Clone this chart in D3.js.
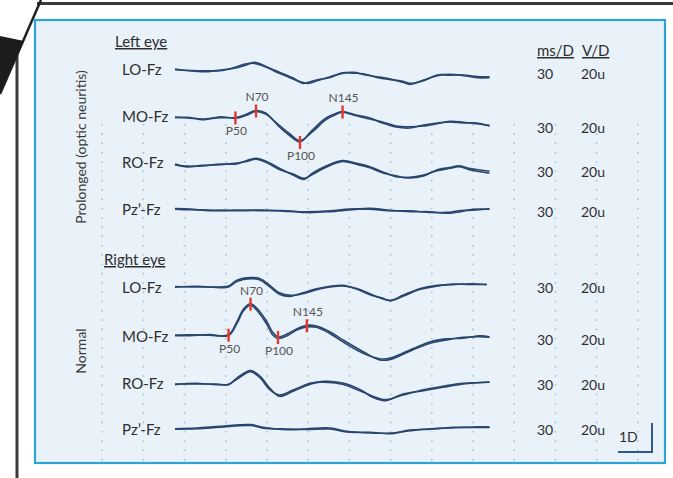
<!DOCTYPE html>
<html>
<head>
<meta charset="utf-8">
<script src="https://cdn.jsdelivr.net/npm/d3@7"></script>
<style>
  body { margin: 0; background: #fff; }
  svg text { font-family: Lato, "Open Sans", sans-serif; }
</style>
</head>
<body>
<svg id="chart" width="673" height="478"></svg>
<script>
// ---- data ----
var channels = ["LO-Fz", "MO-Fz", "RO-Fz", "Pz\u2019-Fz"];
var msPerDiv = ["30", "30", "30", "30"];
var vPerDiv = ["20u", "20u", "20u", "20u"];

// division lines, ms (30 ms per division)
var gridTimes = [-53, -23, 7, 37, 67, 97, 127, 157, 187, 217, 247, 277, 307, 337];

// left eye, prolonged (optic neuritis); amplitudes in uV, negative plotted up
var timesLeftLO = [0, 20, 33, 45, 52, 58, 76, 86, 93, 97, 103, 113, 122, 130, 137, 147, 157, 166, 171, 181, 191, 200, 210, 220, 229];
var sweepALeftLO = [0, 1.9, 0.7, -0.9, -2.8, -4.6, 3, 6.9, 9.2, 9.9, 8.3, 5.3, 3, 2.3, 3.7, 5.3, 6.9, 9.2, 10.6, 7.6, 4.6, 3.7, 4.6, 6, 6];
var sweepBLeftLO = [0.5, 1.2, 1.2, -1.6, -3.6, -3.9, 2.2, 6.2, 9.9, 9.2, 7.6, 5.8, 2.6, 2.9, 3.3, 5.8, 7.4, 8.5, 9.9, 8.1, 4.1, 4.2, 4.1, 5.2, 5.4];

var timesLeftMO = [0, 11, 20, 33, 44, 52, 59, 66, 76, 83, 91, 100, 110, 118, 122, 132, 142, 151, 161, 171, 181, 191, 200, 210, 220, 229];
var sweepALeftMO = [0, 0.9, 1.4, 0.5, 0.3, -1.9, -4.5, -2.8, 6.9, 12.4, 17.2, 9, 0.7, -2.8, -3.8, -1.4, 0.7, 4.1, 6.9, 7.6, 5.5, 4.1, 3.4, 4.1, 4.1, 6.2];
var sweepBLeftMO = [0.4, 0.3, 1.9, -0.2, 0.9, -1.2, -3.9, -2, 5.8, 11.2, 16.3, 10.3, 1.8, -2.1, -3.3, -0.8, 1.4, 3.4, 6.2, 6.7, 6.2, 4.6, 3, 3.6, 4.7, 5.8];

var timesLeftRO = [0, 9, 20, 33, 45, 52, 59, 67, 76, 86, 94, 100, 110, 122, 132, 142, 151, 161, 171, 181, 191, 200, 207, 215, 222, 229];
var sweepALeftRO = [0, 0.7, 0.7, -0.7, -0.7, -3, -4.6, -2.3, 2.3, 6.9, 9.9, 5.7, 0.7, -3, -1.2, 1.2, 4.6, 8.1, 8.5, 6.9, 3.9, 2.3, 1.2, 3.4, 4.6, 5.7];
var sweepBLeftRO = [-0.6, 1.3, 0.2, -0.2, -1.4, -2.4, -4, -1.5, 3.1, 6.2, 9.2, 6.5, 1.5, -2.5, -0.5, 1.9, 5.3, 7.5, 8.9, 7.5, 3.2, 1.7, 0.6, 2.5, 3.5, 4.3];

var timesLeftPz = [0, 11, 25, 45, 64, 82, 96, 113, 127, 142, 155, 171, 186, 198, 208, 217, 229];
var sweepALeftPz = [0, 0.3, 1.5, 1, 1.5, 1.5, 2.8, 2.2, 1, -0.1, 1, 2.2, 2.2, 3.3, 2.2, 0.5, 0.5];
var sweepBLeftPz = [0.4, 0.9, 1, 1.6, 1, 2.1, 2.3, 1.6, 0.4, 0.5, 1.6, 1.6, 2.8, 2.7, 1.4, 1.2, 0.2];

// right eye, normal
var timesRightLO = [0, 16, 33, 39, 45, 55, 62, 69, 76, 84, 93, 106, 122, 133, 142, 151, 157, 166, 178, 191, 202, 215, 227];
var sweepARightLO = [0, 0.3, 0.3, -0.3, -4.3, -6.1, -5.4, -0.8, 4.3, 6.1, 5, 1.5, -0.3, 1.5, 5, 8.4, 9.5, 6.1, 1.5, -0.8, -1.2, -1.9, -1.2];
var sweepBRightLO = [0.4, -0.2, 0.8, 0.4, -3.4, -5.4, -4.5, 0.2, 5.3, 6.8, 4.3, 1.1, -0.8, 2.1, 5.6, 8, 9.9, 6.8, 2.1, -0.3, -1.7, -1.4, -1.6];

var timesRightMO = [0, 11, 25, 39, 45, 50, 55, 60, 67, 71, 75, 82, 89, 96, 103, 113, 122, 137, 149, 157, 173, 186, 198, 210, 222, 229];
var sweepARightMO = [0, -0.2, 0.2, -0.2, -9, -18.1, -21.6, -18.1, -9, -2.1, 1.4, -0.9, -4.4, -6.7, -6.2, -2.1, 3.2, 11.5, 17.2, 16.8, 10.3, 5.7, 3.4, 1.6, 1.2, 1.6];
var sweepBRightMO = [0.5, 0.4, -0.3, 0.3, -7.8, -16.9, -20.5, -16.6, -7.2, -0.2, 2.4, 0.4, -3.6, -5.6, -5.3, -0.9, 4.6, 12.6, 16.4, 15.9, 9.5, 4.6, 2.7, 2.2, 0.6, 1.2];

var timesRightRO = [0, 15, 30, 39, 45, 55, 62, 69, 76, 86, 99, 108, 122, 135, 144, 153, 166, 181, 195, 210, 229];
var sweepARightRO = [0, 0, 0, 0.5, -4.1, -9.2, -5.3, 2.8, 8.5, 5, 0, -1.8, -0.7, 3.9, 9.2, 11.5, 6.9, 4.6, 2.3, 0, -1.4];
var sweepBRightRO = [0.4, -0.5, 0.4, 0.2, -3.2, -8.4, -4.2, 3.9, 7.6, 4.2, -0.6, -1.3, 0.2, 4.8, 8.4, 10.8, 7.6, 4, 1.6, -0.5, -1.2];

var timesRightPz = [0, 16, 33, 55, 64, 82, 96, 113, 125, 142, 157, 171, 186, 202, 217, 229];
var sweepARightPz = [0, -0.5, -1.6, -2.8, -1, 0.7, 0, -0.5, 1.8, 3, 3, 1.4, 0, -0.5, -1.2, -1.2];
var sweepBRightPz = [0.3, 0, -1.1, -2.2, -0.4, 0.2, 0.5, 0.2, 2.3, 2.5, 3.5, 1, 0.4, -1, -0.8, -0.9];

// peak markers on MO-Fz
var peakNames = ["P50", "N70", "P100", "N145"];
var peakSide = ["below", "above", "below", "above"];
var peakTimesLeft = [44, 59, 91, 122];
var peakTimesRight = [39, 55, 75, 96];

// ---- layout ----
var svg = d3.select("#chart");
var traceColor = "#29466f";
var textColor = "#2e2e2e";

var x = d3.scaleLinear().domain([0, 230]).range([175, 175 + 230 * 41.2 / 30]);

var groups = [
  { title: "Left eye", titleX: 115, titleY: 47, side: "Prolonged (optic neuritis)", sideY: 147,
    base: [69, 117, 165, 208.5], labelY: [75, 122, 168, 215], valueY: [79, 133, 177, 217],
    times: [timesLeftLO, timesLeftMO, timesLeftRO, timesLeftPz],
    sweepA: [sweepALeftLO, sweepALeftMO, sweepALeftRO, sweepALeftPz],
    sweepB: [sweepBLeftLO, sweepBLeftMO, sweepBLeftRO, sweepBLeftPz],
    peaks: peakTimesLeft },
  { title: "Right eye", titleX: 104, titleY: 265, side: "Normal", sideY: 351,
    base: [286.5, 335, 384, 428.7], labelY: [293, 342, 389, 435], valueY: [293, 345, 390, 435],
    times: [timesRightLO, timesRightMO, timesRightRO, timesRightPz],
    sweepA: [sweepARightLO, sweepARightMO, sweepARightRO, sweepARightPz],
    sweepB: [sweepBRightLO, sweepBRightMO, sweepBRightRO, sweepBRightPz],
    peaks: peakTimesRight }
];

// outer frame pieces (the figure is a zoomed inset)
svg.append("line").attr("x1", 37).attr("x2", 673).attr("y1", 3.5).attr("y2", 3.5)
  .attr("stroke", "#3a3a3a").attr("stroke-width", 3);
svg.append("line").attr("x1", 17).attr("x2", 17).attr("y1", 50).attr("y2", 478)
  .attr("stroke", "#3a3a3a").attr("stroke-width", 3);
svg.append("line").attr("x1", 41).attr("y1", 0).attr("x2", 0).attr("y2", 94)
  .attr("stroke", "#222").attr("stroke-width", 2.5);
svg.append("path").attr("d", "M0,36 L24,41 L0,94 Z").attr("fill", "#1c1c1c");

// panel
svg.append("rect").attr("x", 35).attr("y", 20).attr("width", 630).attr("height", 443)
  .attr("fill", "#e9f1f9").attr("stroke", "#2da2d4").attr("stroke-width", 2.2);

// dotted division lines
svg.append("g").selectAll("line").data(gridTimes).enter().append("line")
  .attr("x1", function(d) { return x(d); }).attr("x2", function(d) { return x(d); })
  .attr("y1", 124).attr("y2", 461)
  .attr("stroke", "#a3c3df").attr("stroke-width", 1.6)
  .attr("stroke-dasharray", "1.6,7.7");

// header
svg.append("text").attr("x", 537).attr("y", 56).text("ms/D")
  .attr("font-size", 15).attr("fill", textColor).attr("text-decoration", "underline");
svg.append("text").attr("x", 582).attr("y", 56).text("V/D")
  .attr("font-size", 15).attr("fill", textColor).attr("text-decoration", "underline");

var line = d3.line().curve(d3.curveCatmullRom.alpha(0.5));

groups.forEach(function(gr) {
  svg.append("text").attr("x", gr.titleX).attr("y", gr.titleY).text(gr.title)
    .attr("font-size", 15).attr("fill", textColor).attr("text-decoration", "underline");

  svg.append("text")
    .attr("transform", "translate(86," + gr.sideY + ") rotate(-90)")
    .attr("text-anchor", "middle").attr("font-size", 14).attr("fill", "#3c3c3c")
    .text(gr.side);

  channels.forEach(function(ch, i) {
    var y = d3.scaleLinear().domain([0, 20]).range([gr.base[i], gr.base[i] + 29]);
    var t = gr.times[i];

    svg.append("text").attr("x", 122).attr("y", gr.labelY[i]).text(ch)
      .attr("font-size", 15).attr("fill", textColor);
    svg.append("text").attr("x", 537).attr("y", gr.valueY[i]).text(msPerDiv[i])
      .attr("font-size", 14).attr("fill", textColor);
    svg.append("text").attr("x", 581).attr("y", gr.valueY[i]).text(vPerDiv[i])
      .attr("font-size", 14).attr("fill", textColor);

    [gr.sweepA[i], gr.sweepB[i]].forEach(function(sw) {
      svg.append("path")
        .attr("d", line(t.map(function(d, k) { return [x(d), y(sw[k])]; })))
        .attr("fill", "none").attr("stroke", traceColor)
        .attr("stroke-width", 1.6).attr("stroke-linejoin", "round");
    });

    if (ch === "MO-Fz") {
      var amp = d3.scaleLinear().domain(t).range(gr.sweepA[i]);
      gr.peaks.forEach(function(pt, k) {
        var py = y(amp(pt));
        svg.append("line").attr("x1", x(pt)).attr("x2", x(pt))
          .attr("y1", py - 6).attr("y2", py + 7)
          .attr("stroke", "#e8362a").attr("stroke-width", 2.4);
        svg.append("text").attr("x", x(pt) + 1)
          .attr("y", peakSide[k] === "above" ? py - 9 : py + 18)
          .attr("text-anchor", "middle").attr("font-size", 12).attr("fill", "#555")
          .text(peakNames[k]);
      });
    }
  });
});

// 1 division scale mark
svg.append("text").attr("x", 619).attr("y", 442).text("1D")
  .attr("font-size", 14).attr("fill", textColor);
svg.append("path").attr("d", "M618,452 L652,452 L652,423")
  .attr("fill", "none").attr("stroke", "#2d5a8a").attr("stroke-width", 2);
</script>
</body>
</html>
